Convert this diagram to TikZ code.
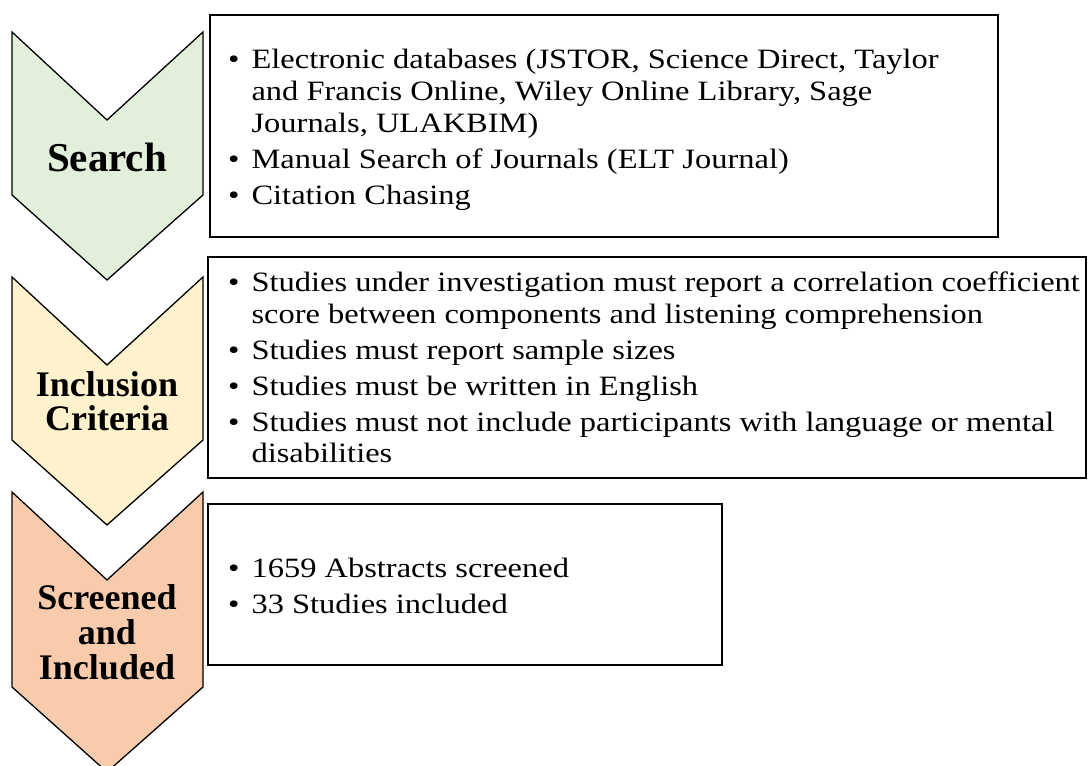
\documentclass[tikz,border=0pt]{standalone}
\usepackage{fontspec}
\setmainfont{Liberation Serif}
\newfontfamily\bodyfont{Liberation Serif}[FakeStretch=1.16]
\definecolor{cgreen}{HTML}{E2EFDA}
\definecolor{cyellow}{HTML}{FFF2CC}
\definecolor{corange}{HTML}{F8CBAD}
\begin{document}
\begin{tikzpicture}[x=1pt,y=-1pt,
  chev/.style={draw=black,line width=1.3pt,line join=miter},
  tbox/.style={draw=black,line width=1.6pt,fill=white},
  lbl/.style={font=\fontsize{36}{36}\selectfont\bfseries,align=center,inner sep=0pt},
  btxt/.style={anchor=north west,inner sep=0pt,font=\bodyfont\fontsize{28}{32}\selectfont}]
\useasboundingbox (0,0) rectangle (1088,766);
% chevrons
\filldraw[chev,fill=cgreen] (12,32) -- (107,120) -- (203,32) -- (203,195) -- (107,280) -- (12,195) -- cycle;
\filldraw[chev,fill=cyellow] (12,277) -- (107,365) -- (203,277) -- (203,440) -- (107,525) -- (12,440) -- cycle;
\filldraw[chev,fill=corange] (12,492) -- (107,580) -- (203,492) -- (203,687) -- (107,772) -- (12,687) -- cycle;
\node[lbl,font=\fontsize{41}{41}\selectfont\bfseries] (l1) at (107,157) {Search};
\node[lbl] (l2) at (107,401) {Inclusion\\[-2pt]Criteria};
\node[lbl] (l3) at (107,632) {Screened\\[-1pt]and\\[-1pt]Included};
% boxes
\draw[tbox] (210,15) rectangle (998,237);
\draw[tbox] (208,257) rectangle (1086,478);
\draw[tbox] (208,504) rectangle (722,665);
\node[btxt] (t1) at (228,45.6) {\begin{tabular}{@{}l@{\hspace{12pt}}l@{}}
\textbullet & Electronic databases (JSTOR, Science Direct, Taylor\\
 & and Francis Online, Wiley Online Library, Sage\\
 & Journals, ULAKBIM)\\[4pt]
\textbullet & Manual Search of Journals (ELT Journal)\\[4pt]
\textbullet & Citation Chasing
\end{tabular}};
\node[btxt] (t2) at (228,268.6) {\begin{tabular}{@{}l@{\hspace{12pt}}l@{}}
\textbullet & Studies under investigation must report a correlation coefficient\\
 & score between components and listening comprehension\\[4pt]
\textbullet & Studies must report sample sizes\\[4pt]
\textbullet & Studies must be written in English\\[4pt]
\textbullet & Studies must not include participants with language or mental\\[-1pt]
 & disabilities
\end{tabular}};
\node[btxt] (t3) at (228,554.6) {\begin{tabular}{@{}l@{\hspace{12pt}}l@{}}
\textbullet & 1659 Abstracts screened\\[4pt]
\textbullet & 33 Studies included
\end{tabular}};
\end{tikzpicture}
\end{document}
